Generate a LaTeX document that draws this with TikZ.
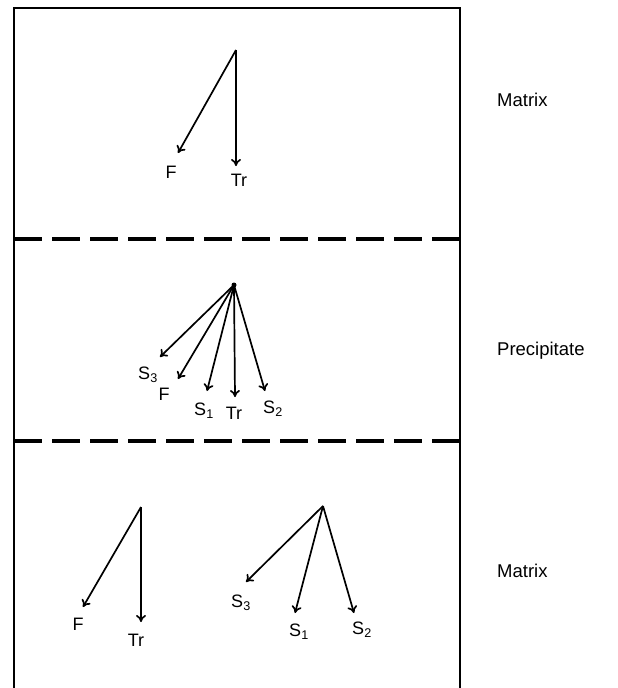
\documentclass[tikz,border=0pt]{standalone}
\usepackage{fontspec}
\setmainfont{Liberation Sans}
\usetikzlibrary{arrows.meta}
\begin{document}
\begin{tikzpicture}[x=1pt,y=-1pt,
  frame/.style={line width=2pt},
  sep/.style={line width=3.5pt,dash pattern=on 28pt off 10pt},
  ray/.style={line width=1.7pt,-{To[length=7pt,width=10pt,line width=1.7pt]}},
  lab/.style={font=\fontsize{18}{20}\selectfont,inner sep=0pt},
  side/.style={font=\fontsize{18.5}{20}\selectfont,inner sep=0pt}]
\useasboundingbox (0,0) rectangle (618,688);
% frame
\draw[frame] (14,688) -- (14,8) -- (460,8) -- (460,688);
\draw[sep] (14,239) -- (460,239);
\draw[sep] (14,441) -- (460,441);
% top matrix
\coordinate (a1) at (236,50);
\coordinate (a1F) at (178,153);
\coordinate (a1T) at (236,166);
\draw[ray] (a1) -- (a1F);
\draw[ray] (a1) -- (a1T);
\node[lab] (l1F) at (171,172) {F};
\node[lab] (l1T) at (239,180) {Tr};
% precipitate
\coordinate (a2) at (234,285);
\fill (a2) circle (2.5pt);
\coordinate (a2S3) at (160,357);
\coordinate (a2F) at (178,379);
\coordinate (a2S1) at (207,391);
\coordinate (a2T) at (235,397);
\coordinate (a2S2) at (265,391);
\foreach \t in {a2S3,a2F,a2S1,a2T,a2S2} \draw[ray] (a2) -- (\t);
\node[lab] (l2S3) at (148,375) {S\textsubscript{3}};
\node[lab] (l2F) at (164,394) {F};
\node[lab] (l2S1) at (204,411) {S\textsubscript{1}};
\node[lab] (l2T) at (234,413) {Tr};
\node[lab] (l2S2) at (273,409) {S\textsubscript{2}};
% bottom matrix left
\coordinate (a3) at (141,507);
\coordinate (a3F) at (83,607);
\coordinate (a3T) at (141,622);
\draw[ray] (a3) -- (a3F);
\draw[ray] (a3) -- (a3T);
\node[lab] (l3F) at (78,624) {F};
\node[lab] (l3T) at (136,640) {Tr};
% bottom matrix right
\coordinate (a4) at (323,506);
\coordinate (a4S3) at (246,582);
\coordinate (a4S1) at (295,613);
\coordinate (a4S2) at (354,613);
\foreach \t in {a4S3,a4S1,a4S2} \draw[ray] (a4) -- (\t);
\node[lab] (l4S3) at (241,603) {S\textsubscript{3}};
\node[lab] (l4S1) at (299,632) {S\textsubscript{1}};
\node[lab] (l4S2) at (362,630) {S\textsubscript{2}};
% side labels
\node[side,anchor=west] (m1) at (497,100) {Matrix};
\node[side,anchor=west] (p) at (497,351) {Precipitate};
\node[side,anchor=west] (m2) at (497,571) {Matrix};
\end{tikzpicture}
\end{document}
